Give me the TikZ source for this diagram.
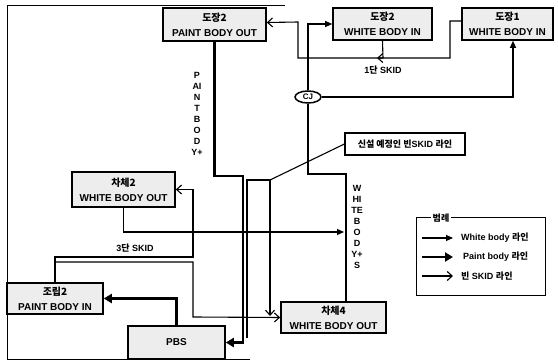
\documentclass[tikz,border=0pt]{standalone}
\usepackage{fontspec}
\setmainfont{Liberation Sans}
\newfontfamily\kr{Noto Sans CJK KR}
\usetikzlibrary{arrows.meta,shapes.geometric}

\begin{document}
\begin{tikzpicture}[x=1pt,y=-1pt,
      unit/.style={draw, line width=1.6pt, fill=black!7, align=center,
                inner sep=1pt, font=\fontsize{10}{13}\selectfont\bfseries},
      whiteln/.style={line width=1.1pt, -{Triangle[length=7pt,width=6pt]}},
      paintln/.style={line width=2.2pt, -{Triangle[length=8pt,width=9pt]}},
      skidln/.style={line width=1.1pt, -{Straight Barb[length=5pt,width=9pt]}},
      plainln/.style={line width=1.1pt},
      vtext/.style={align=center, inner sep=0pt,
                font=\fontsize{9}{11}\selectfont\bfseries},
      every node/.style={align=center}]
    \useasboundingbox (0,0) rectangle (558,361);
    \draw[line width=0.8pt] (285,5) -- (7,5) -- (7,359) -- (250,359);

    \node[unit, minimum width=103pt, minimum height=33pt] (pbo2) at (214.5,24.5) {{\kr 도장2}\\[2pt]PAINT BODY OUT};
    \node[unit, minimum width=99pt, minimum height=32pt]  (wbi2) at (382.5,24) {{\kr 도장2}\\[2pt]WHITE BODY IN};
    \node[unit, minimum width=91pt, minimum height=32pt]  (wbi1) at (507.5,24) {{\kr 도장1}\\[2pt]WHITE BODY IN};
    \node[unit, minimum width=103pt, minimum height=35pt] (wbo2) at (123.5,189.5) {{\kr 차체2}\\[2pt]WHITE BODY OUT};
    \node[unit, minimum width=96pt, minimum height=31pt]  (pbi2) at (55,298.5) {{\kr 조립2}\\[2pt]PAINT BODY IN};
    \node[unit, minimum width=97pt, minimum height=33pt]  (pbs)  at (176.5,342.5) {PBS};
    \node[unit, minimum width=105pt, minimum height=31pt] (wbo4) at (333.5,317.5) {{\kr 차체4}\\[2pt]WHITE BODY OUT};
    \node[draw, ellipse, line width=1.5pt, fill=white, inner sep=0pt, minimum width=26pt, minimum height=12pt,
          font=\fontsize{8}{9}\selectfont\bfseries] (cj) at (308,97) {CJ};
    \node[draw, line width=1.2pt, minimum width=120pt, minimum height=22pt,
          font=\fontsize{9}{11}\selectfont\bfseries] (callout) at (405,144) {{\kr 신설 예정인 빈}SKID {\kr 라인}};

    \node[vtext] (ptxt) at (197,113.5) {P\\AI\\N\\T\\B\\O\\D\\Y+};
    \node[vtext] (wtxt) at (357,227) {W\\HI\\TE\\B\\O\\D\\Y+\\S};
    \node[font=\fontsize{9}{10}\selectfont\bfseries] (sk1) at (383,70) {1{\kr 단} SKID};
    \node[font=\fontsize{9}{10}\selectfont\bfseries] (sk3) at (135,248) {3{\kr 단} SKID};

    \draw[paintln] (pbo2.south) |- (243,176) |- (pbs.east);
    \draw[paintln] (pbs.north) |- (pbi2.east);

    \draw[plainln] ([xshift=12.5pt]wbo4.north) -- (346,174) -- (308,174) -- (cj.south);
    \draw[whiteln] (cj.north) |- (wbi2.west);
    \draw[whiteln] (cj.east) -| ([xshift=5.5pt]wbi1.south);
    \draw[whiteln] (wbo2.south) |- (344,232);

    \draw[skidln] ([yshift=3pt]wbi1.west) -- (450,21) -- (450,58) -- (298,58) -- (298,22) -- ([yshift=2pt]pbo2.east);
    \draw[skidln] (wbi2.south) -- (383,58) -- (377,58);

    \coordinate (split) at (55,262);
    \draw[skidln] (pbi2.north) |- (193,257) |- (wbo2.east);
    \draw[skidln] (split) -- (193,262) -- (193,317) -- (wbo4.west);

    \coordinate (newsk) at (247,338);
    \coordinate (nc) at (270,180);
    \draw[skidln] (newsk) -- (247,180) -- (nc) -- (270,316);
    \draw[plainln] (callout.west) -- (nc);

    \node[draw, line width=1pt, minimum width=129pt, minimum height=77pt] (legend) at (480.5,256.5) {};
    \node[fill=white, inner sep=2pt, font=\fontsize{9}{10}\selectfont\bfseries\kr] (legtitle) at (441,218) {범례};
    \coordinate (l1a) at (422,238); \coordinate (l1b) at (453,238);
    \coordinate (l2a) at (422,257); \coordinate (l2b) at (453,257);
    \coordinate (l3a) at (422,276); \coordinate (l3b) at (453,276);
    \draw[whiteln] (l1a) -- (l1b);
    \draw[paintln] (l2a) -- (l2b);
    \draw[skidln] (l3a) -- (l3b);
    \node[anchor=west, inner sep=0pt, font=\fontsize{9}{10}\selectfont\bfseries] (l1t) at (461,238) {White body {\kr 라인}};
    \node[anchor=west, inner sep=0pt, font=\fontsize{9}{10}\selectfont\bfseries] (l2t) at (463,257) {Paint body {\kr 라인}};
    \node[anchor=west, inner sep=0pt, font=\fontsize{9}{10}\selectfont\bfseries] (l3t) at (461,276) {{\kr 빈} SKID {\kr 라인}};
  \end{tikzpicture}
\end{document}
